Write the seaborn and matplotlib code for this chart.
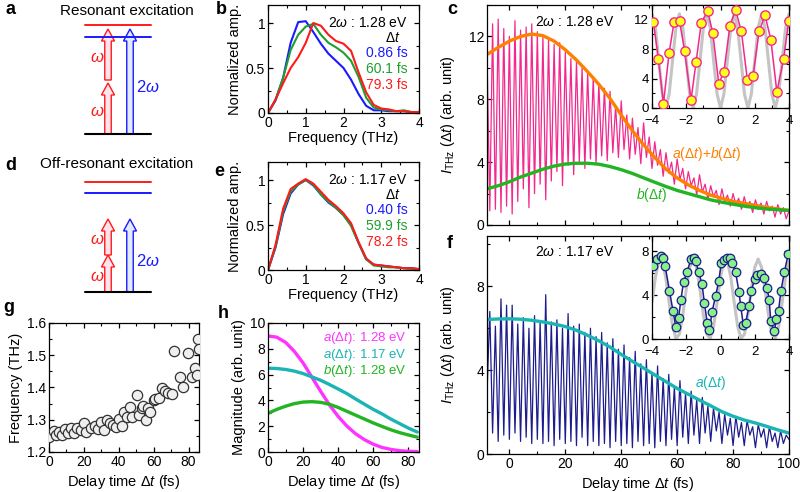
import numpy as np
import pandas as pd
import matplotlib
matplotlib.use('Agg')
import matplotlib.pyplot as plt
import seaborn as sns
from matplotlib.patches import FancyArrow
from matplotlib.ticker import MultipleLocator

# --- values ---
# b, e: normalized THz spectra
freq = [0, 0.2, 0.4, 0.6, 0.8, 1.0, 1.2, 1.4, 1.6, 1.8, 2.0, 2.2, 2.4, 2.6, 2.8, 3.0, 3.2, 3.4, 3.6, 3.8, 4.0]
b_086 = [0.0, 0.14, 0.39, 0.78, 1.01, 1.02, 0.90, 0.77, 0.66, 0.58, 0.50, 0.37, 0.21, 0.08, 0.03, 0.03, 0.02, 0.02, 0.02, 0.01, 0.0]
b_601 = [0.0, 0.15, 0.39, 0.70, 0.87, 0.96, 0.99, 0.87, 0.78, 0.73, 0.67, 0.58, 0.40, 0.17, 0.06, 0.04, 0.03, 0.02, 0.03, 0.01, 0.01]
b_793 = [0.0, 0.15, 0.33, 0.50, 0.62, 0.78, 1.00, 0.97, 0.87, 0.80, 0.77, 0.69, 0.45, 0.23, 0.09, 0.05, 0.04, 0.02, 0.02, 0.01, 0.01]
e_040 = [0.0, 0.25, 0.62, 0.85, 0.95, 1.00, 0.94, 0.84, 0.75, 0.69, 0.61, 0.50, 0.30, 0.12, 0.06, 0.05, 0.04, 0.03, 0.02, 0.02, 0.01]
e_599 = [0.0, 0.26, 0.65, 0.87, 0.95, 1.00, 0.95, 0.84, 0.76, 0.69, 0.61, 0.49, 0.30, 0.12, 0.05, 0.04, 0.03, 0.03, 0.02, 0.01, 0.01]
e_782 = [0.0, 0.28, 0.68, 0.90, 0.96, 1.01, 0.96, 0.87, 0.78, 0.71, 0.63, 0.52, 0.31, 0.13, 0.06, 0.05, 0.04, 0.03, 0.02, 0.02, 0.01]

# c: THz intensity vs delay, 2w = 1.28 eV (sampled every 1 fs from -8 fs)
c_trace = [11.0, 0.9, 12.8, 1.0, 13.1, 0.8, 12.5, 1.2, 12.0, 0.7,
           13.0, 1.5, 12.4, 2.3, 12.6, 1.1, 12.8, 2.0, 12.3, 2.6,
           12.0, 1.6, 11.8, 2.8, 11.5, 3.4, 11.6, 2.5, 11.0, 3.8,
           10.6, 3.2, 10.4, 4.0, 10.0, 3.6, 9.7, 4.2, 9.4, 3.9,
           9.0, 4.4, 8.7, 4.1, 8.5, 4.6, 7.6, 4.3, 7.9, 4.8,
           7.0, 4.2, 6.8, 4.5, 6.2, 3.9, 6.5, 4.3, 5.6, 3.6,
           5.3, 3.8, 4.8, 3.1, 4.6, 3.3, 4.0, 2.6, 4.2, 2.9,
           3.6, 2.3, 3.4, 2.5, 3.0, 1.9, 3.2, 2.1, 2.6, 1.6,
           2.5, 1.8, 2.2, 1.3, 2.3, 1.5, 1.9, 1.2, 2.0, 1.3,
           1.7, 1.0, 1.8, 1.1, 1.5, 0.8, 1.6, 1.0, 1.4, 0.7,
           1.5, 0.9, 1.2, 0.5, 1.3, 0.7, 1.1, 0.4, 0.9]
# envelopes (every 4 fs from -8 fs)
c_ab = [10.85, 11.3, 11.7, 12.0, 12.15, 12.05, 11.7, 11.15, 10.5, 9.75, 8.95, 8.05, 7.0, 6.0,
        5.1, 4.3, 3.55, 3.0, 2.55, 2.2, 1.9, 1.7, 1.5, 1.38, 1.25, 1.12, 1.02, 0.92]
c_b = [2.3, 2.5, 2.75, 3.05, 3.3, 3.55, 3.75, 3.88, 3.93, 3.93, 3.87, 3.72, 3.52, 3.28,
       3.0, 2.72, 2.45, 2.2, 2.0, 1.8, 1.6, 1.45, 1.32, 1.2, 1.1, 1.02, 0.97, 0.93]
# c inset
ci_t = [-3.92, -3.63, -3.33, -3.0, -2.71, -2.39, -2.1, -1.72, -1.43, -1.12, -0.75, -0.45, -0.1,
        0.2, 0.55, 0.88, 1.22, 1.57, 1.9, 2.25, 2.6, 2.94, 3.29, 3.69, 3.98]
ci_v = [11.7, 6.7, 0.6, 7.5, 11.7, 11.8, 7.8, 1.1, 6.2, 11.6, 13.2, 10.2, 3.3,
        4.9, 11.2, 13.3, 10.4, 3.8, 4.3, 10.4, 12.6, 9.3, 2.2, 6.7, 11.8]
# gray reference curve (every 0.2 fs from -4 fs)
ci_gray = [12.8, 10.9, 6.4, 1.9, 0.0, 1.9, 6.4, 10.9, 12.8, 10.9, 6.4, 1.9, 0.0, 1.9, 6.4, 10.9,
           12.8, 10.9, 6.4, 1.9, 0.0, 1.9, 6.4, 10.9, 12.8, 10.9, 6.4, 1.9, 0.0, 1.9, 6.4, 10.9,
           12.8, 10.9, 6.4, 1.9, 0.0, 1.9, 6.4, 10.9, 12.8]

# f: THz intensity vs delay, 2w = 1.17 eV (every 1 fs from -8 fs)
f_trace = [2.9, 6.8, 1.0, 6.1, 0.6, 7.4, 0.9, 7.1, 0.7, 7.1,
           1.0, 6.2, 0.6, 6.5, 0.8, 6.0, 0.5, 6.6, 0.7, 6.3,
           0.5, 7.6, 0.6, 6.3, 0.4, 6.4, 0.7, 6.0, 0.5, 6.7,
           0.6, 6.1, 0.4, 6.2, 0.8, 5.8, 0.4, 6.0, 0.6, 5.6,
           0.4, 5.8, 0.5, 5.3, 0.3, 5.5, 0.6, 5.0, 0.4, 5.2,
           0.5, 4.6, 0.3, 4.9, 0.6, 4.3, 0.4, 4.5, 0.5, 3.9,
           0.3, 4.2, 0.6, 3.6, 0.4, 3.8, 0.7, 3.2, 0.4, 3.5,
           0.8, 2.9, 0.5, 3.0, 0.9, 2.6, 0.5, 2.7, 1.0, 2.3,
           0.6, 2.2, 1.1, 2.0, 0.5, 1.9, 0.9, 1.7, 0.4, 1.8,
           0.8, 1.5, 0.4, 1.6, 0.9, 1.3, 0.3, 1.4, 0.8, 1.2,
           0.3, 1.3, 0.6, 1.0, 0.3, 1.1, 0.5, 0.9, 0.7]
f_a = [6.42, 6.44, 6.45, 6.43, 6.38, 6.3, 6.2, 6.08, 5.9, 5.66, 5.4, 5.1, 4.75, 4.42,
       4.1, 3.77, 3.45, 3.13, 2.85, 2.57, 2.3, 2.02, 1.8, 1.62, 1.48, 1.32, 1.15, 1.0]
fi_t = [-3.96, -3.73, -3.47, -3.33, -3.24, -2.98, -2.78, -2.61, -2.45, -2.31, -2.16, -1.96, -1.72,
        -1.57, -1.45, -1.27, -1.08, -0.94, -0.78, -0.65, -0.49, -0.29, -0.1, 0.04, 0.2, 0.39,
        0.53, 0.69, 0.88, 1.08, 1.18, 1.33, 1.47, 1.67, 1.8, 2.0, 2.16, 2.35, 2.55, 2.71, 2.84,
        2.94, 3.14, 3.27, 3.39, 3.53, 3.73, 3.96]
fi_v = [6.7, 7.3, 7.6, 7.4, 6.7, 4.4, 2.6, 1.1, 1.9, 3.6, 5.2, 6.1, 7.3,
        7.35, 7.1, 6.1, 5.0, 3.3, 1.5, 0.8, 2.5, 3.9, 5.3, 6.9, 7.2, 7.35,
        7.4, 6.9, 6.1, 4.3, 3.0, 1.3, 1.5, 3.0, 4.4, 5.5, 5.8, 5.95, 5.6, 4.7, 3.6,
        1.6, 0.7, 1.8, 2.6, 4.4, 6.1, 7.8]
fi_gray = [3.35, 5.65, 7.1, 7.1, 5.65, 3.35, 1.18, 0.05, 0.44, 2.19, 4.54, 6.53, 7.3, 6.53,
           4.54, 2.19, 0.44, 0.05, 1.18, 3.35, 5.65, 7.1, 7.1, 5.65, 3.35, 1.18, 0.05, 0.44,
           2.19, 4.54, 6.53, 7.3, 6.53, 4.54, 2.19, 0.44, 0.05, 1.18, 3.35, 5.65, 7.1]

# g: oscillation frequency vs delay
g_t = [0.2, 2.7, 4.0, 6.0, 7.5, 9.3, 10.8, 12.7, 14.6, 16.2, 18.1, 20.0, 21.4, 23.9, 26.2,
       28.1, 30.0, 31.6, 33.0, 34.9, 36.8, 38.2, 40.0, 41.6, 43.2, 45.0, 46.4, 47.8, 50.3,
       51.6, 53.2, 54.0, 55.5, 57.0, 58.0, 60.0, 61.0, 63.2, 65.0, 66.3, 68.0, 70.5, 71.5,
       75.3, 76.6, 79.8, 81.7, 83.6, 84.6, 85.3, 85.8]
g_f = [1.245, 1.266, 1.253, 1.263, 1.253, 1.270, 1.258, 1.275, 1.260, 1.273, 1.268, 1.289,
       1.263, 1.273, 1.280, 1.270, 1.294, 1.268, 1.300, 1.289, 1.284, 1.277, 1.302, 1.280,
       1.324, 1.310, 1.339, 1.310, 1.378, 1.315, 1.336, 1.343, 1.300, 1.336, 1.325, 1.360,
       1.363, 1.366, 1.397, 1.389, 1.384, 1.380, 1.513, 1.433, 1.400, 1.508, 1.433, 1.460,
       1.440, 1.550, 1.518]

# h: fitted magnitudes
h_t = [0, 5, 10, 15, 20, 25, 30, 35, 40, 45, 50, 55, 60, 65, 70, 75, 80, 85]
h_a128 = [9.0, 8.9, 8.5, 7.8, 6.9, 5.8, 4.7, 3.65, 2.75, 2.0, 1.4, 0.95, 0.6, 0.35, 0.2, 0.1, 0.05, 0.03]
h_a117 = [6.5, 6.47, 6.4, 6.27, 6.08, 5.82, 5.56, 5.23, 4.88, 4.52, 4.1, 3.7, 3.3, 2.95, 2.55, 2.2, 1.85, 1.55]
h_b128 = [3.0, 3.3, 3.55, 3.75, 3.87, 3.9, 3.85, 3.7, 3.45, 3.15, 2.85, 2.55, 2.25, 1.98, 1.72, 1.5, 1.32, 1.15]

# a, d: level scheme (heights above ground level)
a_levels = [109, 97]
a_omega = [(0, 51), (54, 105)]
a_two_omega = (0, 105)
d_levels = [110, 99]
d_omega = [(0, 37), (37, 73)]
d_two_omega = (0, 73)

# grids
c_delay = np.arange(-8, 101, 1.0)
env_delay = np.arange(-8, 101, 4.0)
gray_delay = np.arange(-4, 4.01, 0.2)

# colours
PINK = '#f2288c'
ORANGE = '#ff8000'
GREEN = '#22b422'
CYAN = '#1ab4b4'
NAVY = '#1c1c8c'
MAGENTA = '#ff33ff'
BLUE = '#1a1aff'
DGREEN = '#1f9e2e'
RED = '#ff1a1a'

sns.set_theme(style='ticks')
plt.rcParams['font.family'] = ['Liberation Sans', 'DejaVu Sans']
plt.rcParams.update({
    'mathtext.fontset': 'custom',
    'mathtext.rm': 'Liberation Sans',
    'mathtext.it': 'Liberation Sans:italic',
    'mathtext.bf': 'Liberation Sans:bold',
    'axes.edgecolor': 'black', 'axes.linewidth': 0.9,
    'xtick.color': 'black', 'ytick.color': 'black',
    'text.color': 'black', 'axes.labelcolor': 'black',
    'xtick.labelsize': 10, 'ytick.labelsize': 10, 'axes.labelsize': 10.5,
    'xtick.major.size': 3.5, 'ytick.major.size': 3.5,
    'xtick.minor.size': 2.0, 'ytick.minor.size': 2.0,
    'xtick.major.width': 0.9, 'ytick.major.width': 0.9,
    'xtick.minor.width': 0.8, 'ytick.minor.width': 0.8,
})

fig = plt.figure(figsize=(8, 4.92), dpi=100)


def px_axes(left, top, right, bottom):
    return fig.add_axes([left / 800, 1 - bottom / 492, (right - left) / 800, (bottom - top) / 492])


def ticks(ax, xmaj, xmin, ymaj, ymin):
    ax.xaxis.set_major_locator(MultipleLocator(xmaj))
    ax.xaxis.set_minor_locator(MultipleLocator(xmin))
    ax.yaxis.set_major_locator(MultipleLocator(ymaj))
    ax.yaxis.set_minor_locator(MultipleLocator(ymin))
    ax.tick_params(which='both', direction='in', top=True, right=True, pad=2)


def panel_label(x, y, s):
    fig.text(x / 800, 1 - y / 492, s, fontsize=13, weight='bold', ha='left', va='center')


# ---- a, d: schemes ----
def scheme(ax, levels, omegas, two_omega):
    ax.set_xlim(80, 160)
    ax.set_ylim(-6, 114)
    ax.axis('off')
    ax.plot([85, 151], [0, 0], color='black', lw=1.5)
    ax.plot([85, 151], [levels[0]] * 2, color=RED, lw=1.4)
    ax.plot([85, 151], [levels[1]] * 2, color=BLUE, lw=1.4)
    for y0, y1 in omegas:
        ax.add_patch(FancyArrow(108, y0, 0, y1 - y0, width=6.5, head_width=13, head_length=12,
                                length_includes_head=True, fc='#ffe4ee', ec=RED, lw=1))
        ax.text(104, (y0 + y1) / 2 - 3, r'$\omega$', color=RED, fontsize=12, ha='right', va='center')
    ax.add_patch(FancyArrow(130, two_omega[0], 0, two_omega[1] - two_omega[0], width=6.5,
                            head_width=13, head_length=12, length_includes_head=True,
                            fc='#e2eaff', ec=BLUE, lw=1))
    ax.text(136, (two_omega[0] + two_omega[1]) / 2 - 6, r'2$\omega$', color=BLUE, fontsize=12,
            ha='left', va='center')


ax_a = px_axes(80, 20, 160, 140)
scheme(ax_a, a_levels, a_omega, a_two_omega)
fig.text(127 / 800, 1 - 11 / 492, 'Resonant excitation', fontsize=11, ha='center', va='center')
ax_d = px_axes(80, 178, 160, 298)
scheme(ax_d, d_levels, d_omega, d_two_omega)
fig.text(117 / 800, 1 - 164 / 492, 'Off-resonant excitation', fontsize=11, ha='center', va='center')

# ---- b, e: spectra ----
spec = pd.DataFrame({'freq': freq, 'b086': b_086, 'b601': b_601, 'b793': b_793,
                     'e040': e_040, 'e599': e_599, 'e782': e_782})


def spectra(ax, cols, labels, energy):
    for col, colr in zip(cols, [BLUE, DGREEN, RED]):
        sns.lineplot(data=spec, x='freq', y=col, color=colr, lw=1.5, ax=ax)
    ax.set_xlim(0, 4)
    ax.set_ylim(0, 1.2)
    ticks(ax, 1, 0.5, 0.5, 0.25)
    ax.set_yticks([0, 0.5, 1])
    ax.set_yticklabels(['0', '0.5', '1'])
    ax.set_ylabel('Normalized amp.', labelpad=3)
    ax.set_xlabel('Frequency (THz)', labelpad=1)
    tx = 0.925
    ax.text(tx, 0.83, r'2$\omega$ : ' + energy, transform=ax.transAxes, ha='right', va='center', fontsize=10)
    ax.text(tx - 0.1, 0.695, r'Δ$t$', transform=ax.transAxes, ha='center', va='center', fontsize=10)
    for yy, lab, colr in zip([0.56, 0.41, 0.26], labels, [BLUE, DGREEN, RED]):
        ax.text(tx, yy, lab, transform=ax.transAxes, ha='right', va='center', fontsize=10, color=colr)


ax_b = px_axes(268, 5, 419, 113)
spectra(ax_b, ['b086', 'b601', 'b793'], ['0.86 fs', '60.1 fs', '79.3 fs'], '1.28 eV')
ax_e = px_axes(268, 162, 419, 270)
spectra(ax_e, ['e040', 'e599', 'e782'], ['0.40 fs', '59.9 fs', '78.2 fs'], '1.17 eV')

# ---- c ----
ax_c = px_axes(487, 5, 789, 225)
sns.lineplot(x=c_delay, y=c_trace, color=PINK, lw=0.9, ax=ax_c, estimator=None)
sns.lineplot(x=env_delay, y=c_ab, color=ORANGE, lw=2.4, ax=ax_c, estimator=None)
sns.lineplot(x=env_delay, y=c_b, color=GREEN, lw=2.4, ax=ax_c, estimator=None)
ax_c.set_xlim(-8, 100)
ax_c.set_ylim(0, 14)
ticks(ax_c, 20, 10, 4, 2)
ax_c.set_xticklabels([])
ax_c.set_xlabel('')
ax_c.set_ylabel(r'$I_{\rm THz}$ (Δ$t$) (arb. unit)', labelpad=4)
ax_c.yaxis.set_label_coords(-0.1, 0.5)
ax_c.text(0.16, 0.925, r'2$\omega$ : 1.28 eV', transform=ax_c.transAxes, fontsize=10, va='center')
ax_c.text(58, 4.5, r'$a$($\Delta t$)+$b$($\Delta t$)', color=ORANGE, fontsize=10, va='center')
ax_c.text(51, 1.9, r'$b$($\Delta t$)', color=GREEN, fontsize=10, ha='center', va='center')

ax_ci = px_axes(652, 5, 789, 108)
sns.lineplot(x=gray_delay, y=ci_gray, color='#c4c4c4', lw=2.2, ax=ax_ci, estimator=None)
sns.lineplot(x=ci_t, y=ci_v, color=PINK, lw=1.1, ax=ax_ci, estimator=None, sort=False)
sns.scatterplot(x=ci_t, y=ci_v, color='#ffff1a', edgecolor=PINK, linewidth=1.0, s=45, ax=ax_ci, zorder=5)
ax_ci.set_xlim(-4, 4)
ax_ci.set_ylim(0, 14)
ticks(ax_ci, 2, 1, 4, 2)
ax_ci.tick_params(labelsize=9.5)
ax_ci.tick_params(axis='x', pad=5)
ax_ci.set_facecolor('white')

# ---- f ----
ax_f = px_axes(487, 236, 789, 454)
sns.lineplot(x=c_delay, y=f_trace, color=NAVY, lw=0.9, ax=ax_f, estimator=None)
sns.lineplot(x=env_delay, y=f_a, color=CYAN, lw=2.4, ax=ax_f, estimator=None)
ax_f.set_xlim(-8, 100)
ax_f.set_ylim(0, 10.4)
ticks(ax_f, 20, 10, 4, 2)
ax_f.set_xlabel(r'Delay time Δ$t$ (fs)', labelpad=3)
ax_f.set_ylabel(r'$I_{\rm THz}$ (Δ$t$) (arb. unit)', labelpad=4)
ax_f.yaxis.set_label_coords(-0.1, 0.5)
ax_f.text(0.16, 0.927, r'2$\omega$ : 1.17 eV', transform=ax_f.transAxes, fontsize=10, va='center')
ax_f.text(72, 3.4, r'$a$($\Delta t$)', color=CYAN, fontsize=10, ha='center', va='center')

ax_fi = px_axes(652, 236, 789, 339)
sns.lineplot(x=gray_delay, y=fi_gray, color='#c4c4c4', lw=2.2, ax=ax_fi, estimator=None)
sns.lineplot(x=fi_t, y=fi_v, color=NAVY, lw=1.1, ax=ax_fi, estimator=None, sort=False)
sns.scatterplot(x=fi_t, y=fi_v, color='#88f088', edgecolor=NAVY, linewidth=0.9, s=38, ax=ax_fi, zorder=5)
ax_fi.set_xlim(-4, 4)
ax_fi.set_ylim(0, 9.4)
ticks(ax_fi, 2, 1, 4, 2)
ax_fi.tick_params(labelsize=9.5)
ax_fi.tick_params(axis='x', pad=5)
ax_fi.set_facecolor('white')

# ---- g ----
ax_g = px_axes(49, 323, 199, 452)
sns.scatterplot(x=g_t, y=g_f, color='#efefef', edgecolor='#333333', linewidth=0.9, s=55, ax=ax_g, zorder=5)
ax_g.set_xlim(0, 86)
ax_g.set_ylim(1.2, 1.6)
ticks(ax_g, 20, 10, 0.1, 0.05)
ax_g.set_xlabel(r'Delay time Δ$t$ (fs)', labelpad=3)
ax_g.set_ylabel('Frequency (THz)', labelpad=3)

# ---- h ----
ax_h = px_axes(268, 323, 419, 452)
sns.lineplot(x=h_t, y=h_a128, color=MAGENTA, lw=2.4, ax=ax_h)
sns.lineplot(x=h_t, y=h_a117, color=CYAN, lw=2.4, ax=ax_h)
sns.lineplot(x=h_t, y=h_b128, color=GREEN, lw=2.4, ax=ax_h)
ax_h.set_xlim(0, 86)
ax_h.set_ylim(0, 10)
ticks(ax_h, 20, 10, 2, 1)
ax_h.set_xlabel(r'Delay time Δ$t$ (fs)', labelpad=3)
ax_h.set_ylabel('Magnitude (arb. unit)', labelpad=3)
for yy, lab, colr in zip([0.88, 0.755, 0.63],
                         [r'$a$(Δ$t$): 1.28 eV', r'$a$(Δ$t$): 1.17 eV', r'$b$(Δ$t$): 1.28 eV'],
                         [MAGENTA, CYAN, GREEN]):
    ax_h.text(0.92, yy, lab, transform=ax_h.transAxes, ha='right', va='center', fontsize=9.5, color=colr)

panel_label(5, 9, 'a')
panel_label(5, 165, 'd')
panel_label(216, 9, 'b')
panel_label(214, 171, 'e')
panel_label(447, 9, 'c')
panel_label(447, 243, 'f')
panel_label(3, 308, 'g')
panel_label(218, 313, 'h')

fig.savefig('out.png', dpi=100)
